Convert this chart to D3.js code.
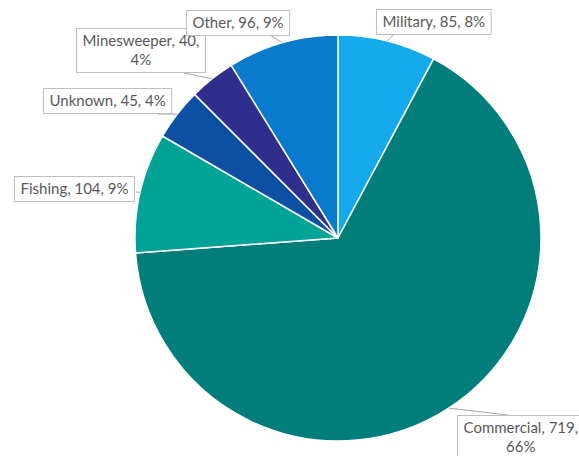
<!DOCTYPE html>
<html>
<head>
<meta charset="utf-8">
<script src="https://cdn.jsdelivr.net/npm/d3@7"></script>
<style>
  html, body { margin: 0; padding: 0; background: #fff; }
  svg { display: block; }
  text { font-family: "Lato", "Open Sans", sans-serif; fill: #595959; }
</style>
</head>
<body>
<svg id="chart" width="579" height="456"></svg>
<script>
// Vessel counts by type
const categories = ["Military", "Commercial", "Fishing", "Unknown", "Minesweeper", "Other"];
const counts = [85, 719, 104, 45, 40, 96];
const percentLabels = ["8%", "66%", "9%", "4%", "4%", "9%"];
const colors = ["#13A9EA", "#027E7A", "#00A497", "#0C50A3", "#302E8D", "#0A7BCC"];

// Label text wrapped into lines (category, count, percent)
const labelLines = [
  ["Military, 85, 8%"],
  ["Commercial, 719,", "66%"],
  ["Fishing, 104, 9%"],
  ["Unknown, 45, 4%"],
  ["Minesweeper, 40,", "4%"],
  ["Other, 96, 9%"]
];

// Callout placement: top-left of each box and where its leader line leaves it
const callouts = {
  Military:    { x: 376, y: 9,   ax: 395, ay: 33 },
  Commercial:  { x: 457, y: 415, ax: 508, ay: 415 },
  Fishing:     { x: 14,  y: 176, ax: 136, ay: 192 },
  Unknown:     { x: 43,  y: 88,  ax: 158, ay: 114 },
  Minesweeper: { x: 76,  y: 28,  ax: 184, ay: 73 },
  Other:       { x: 186, y: 10,  ax: 268, ay: 34 }
};

const svg = d3.select("#chart");
const cx = 338, cy = 238, radius = 203;

const data = categories.map((c, i) => ({ category: c, value: counts[i], pct: percentLabels[i], lines: labelLines[i], color: colors[i] }));

const pie = d3.pie().value(d => d.value).sort(null);
const arc = d3.arc().innerRadius(0).outerRadius(radius);
const arcs = pie(data);

const g = svg.append("g").attr("transform", `translate(${cx},${cy})`);

g.selectAll("path.slice")
  .data(arcs)
  .join("path")
  .attr("class", "slice")
  .attr("d", arc)
  .attr("fill", d => d.data.color)
  .attr("stroke", "#fff")
  .attr("stroke-width", 1.5)
  .attr("stroke-linejoin", "round");

// Leader lines from each callout to the middle of its slice's rim
const rim = d3.arc().innerRadius(radius).outerRadius(radius);
svg.selectAll("line.leader")
  .data(arcs)
  .join("line")
  .attr("class", "leader")
  .attr("x1", d => callouts[d.data.category].ax)
  .attr("y1", d => callouts[d.data.category].ay)
  .attr("x2", d => cx + rim.centroid(d)[0])
  .attr("y2", d => cy + rim.centroid(d)[1])
  .attr("stroke", "#A6A6A6")
  .attr("stroke-width", 1);

// Callout boxes
const fontSize = 15, lineH = 19, padX = 6, padY = 3;
const labels = svg.selectAll("g.callout")
  .data(arcs)
  .join("g")
  .attr("class", "callout");

labels.each(function(d) {
  const box = callouts[d.data.category];
  const grp = d3.select(this);
  const rect = grp.append("rect");
  const txt = grp.append("text")
    .attr("font-size", fontSize)
    .attr("text-anchor", "middle");
  d.data.lines.forEach((ln, i) => {
    txt.append("tspan").text(ln).attr("x", 0).attr("y", i * lineH);
  });
  const w = txt.node().getBBox().width + padX * 2;
  const h = d.data.lines.length * lineH + padY * 2;
  rect.attr("x", box.x + 0.5).attr("y", box.y + 0.5)
    .attr("width", w).attr("height", h)
    .attr("fill", "#fff").attr("stroke", "#BFBFBF").attr("stroke-width", 1);
  txt.attr("transform", `translate(${box.x + 0.5 + w / 2},${box.y + 18})`);
});
</script>
</body>
</html>
